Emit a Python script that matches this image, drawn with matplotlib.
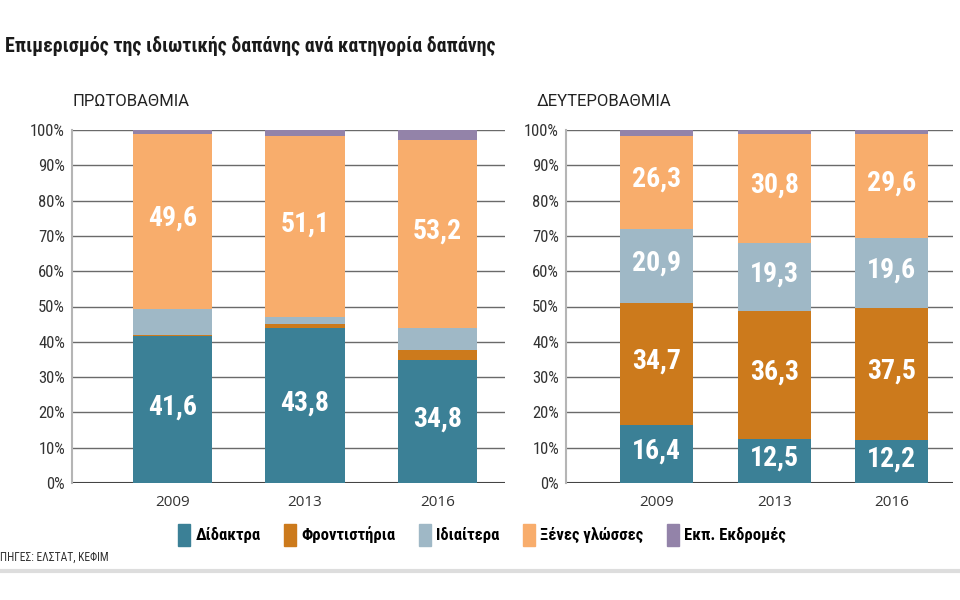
import matplotlib
matplotlib.use("Agg")
import matplotlib.pyplot as plt
from matplotlib.patches import Patch
from matplotlib.lines import Line2D
import numpy as np

NARROW = ["Roboto Condensed", "DejaVu Sans"]

# data
years = ["2009", "2013", "2016"]
categories = ["Δίδακτρα", "Φροντιστήρια", "Ιδιαίτερα", "Ξένες γλώσσες", "Εκπ. Εκδρομές"]
colors = ["#3b8096", "#cc7a1c", "#9fb8c6", "#f8ad6c", "#9383a9"]

# ΠΡΩΤΟΒΑΘΜΙΑ
prim_didaktra = [41.6, 43.8, 34.8]
prim_frontist = [0.3, 1.3, 2.9]
prim_idiaitera = [7.4, 2.0, 6.3]
prim_xenes = [49.6, 51.1, 53.2]
prim_ekdromes = [1.1, 1.8, 2.8]

# ΔΕΥΤΕΡΟΒΑΘΜΙΑ
sec_didaktra = [16.4, 12.5, 12.2]
sec_frontist = [34.7, 36.3, 37.5]
sec_idiaitera = [20.9, 19.3, 19.6]
sec_xenes = [26.3, 30.8, 29.6]
sec_ekdromes = [1.7, 1.1, 1.1]

primary = [prim_didaktra, prim_frontist, prim_idiaitera, prim_xenes, prim_ekdromes]
secondary = [sec_didaktra, sec_frontist, sec_idiaitera, sec_xenes, sec_ekdromes]
# ποιες σειρές έχουν ετικέτα τιμής
prim_labeled = [0, 3]
sec_labeled = [0, 1, 2, 3]

fig = plt.figure(figsize=(9.6, 6), dpi=100)


def draw_panel(ax, series, labeled, width, xlim):
    x = np.arange(len(years))
    bottom = np.zeros(len(years))
    for i, vals in enumerate(series):
        vals = np.array(vals)
        ax.bar(x, vals, width, bottom=bottom, color=colors[i], zorder=3)
        if i in labeled:
            for xi, b, v in zip(x, bottom, vals):
                ax.text(xi, b + v / 2 + 0.8, f"{v:.1f}".replace(".", ","),
                        ha="center", va="center", color="white",
                        fontsize=20, fontweight="bold", family=NARROW, zorder=4)
        bottom += vals
    ax.set_xlim(*xlim)
    ax.set_ylim(0, 100)
    ax.set_yticks(np.arange(0, 101, 10))
    ax.set_yticklabels([f"{t}%" for t in range(0, 101, 10)], family=NARROW,
                       fontsize=12, color="#333333")
    ax.set_xticks(x)
    ax.set_xticklabels(years, family="Open Sans", fontsize=11, color="#333333")
    ax.tick_params(axis="both", length=0, pad=5)
    ax.tick_params(axis="x", pad=9)
    ax.grid(axis="y", color="#6a6a6a", linewidth=1, zorder=1)
    ax.axhline(0, color="#444444", linewidth=1.5, zorder=2)
    for s in ["top", "right", "bottom"]:
        ax.spines[s].set_visible(False)
    ax.spines["left"].set_color("#b5b5b5")
    ax.spines["left"].set_linewidth(1.5)


ax1 = fig.add_axes([72 / 960, 117 / 600, 433 / 960, 353 / 600])
draw_panel(ax1, primary, prim_labeled, 0.6, (-0.76, 2.51))
ax2 = fig.add_axes([566 / 960, 117 / 600, 387 / 960, 353 / 600])
draw_panel(ax2, secondary, sec_labeled, 0.62, (-0.77, 2.52))

# τίτλοι
fig.text(5 / 960, 1 - 46 / 600, "Επιμερισμός της ιδιωτικής δαπάνης ανά κατηγορία δαπάνης",
         family=NARROW, fontweight="heavy", fontsize=14.3, color="#1a1a1a", va="center")
fig.text(72 / 960, 1 - 101 / 600, "ΠΡΩΤΟΒΑΘΜΙΑ", family="Roboto", fontsize=12,
         color="#222222", va="center")
fig.text(537 / 960, 1 - 101 / 600, "ΔΕΥΤΕΡΟΒΑΘΜΙΑ", family="Roboto", fontsize=12,
         color="#222222", va="center")

# υπόμνημα
handles = [Patch(color=c, label=l) for c, l in zip(colors, categories)]
fig.legend(handles=handles, loc="center", bbox_to_anchor=(482 / 960, 1 - 535 / 600),
           ncol=5, frameon=False, handlelength=0.75, handleheight=1.6,
           handletextpad=0.3, columnspacing=1.4,
           prop={"family": NARROW, "weight": "bold", "size": 12})

fig.text(0, 1 - 557 / 600, "ΠΗΓΕΣ: ΕΛΣΤΑΤ, ΚΕΦΙΜ", family=NARROW, fontsize=8.3,
         color="#333333", va="center")
fig.add_artist(Line2D([0, 1], [1 - 571 / 600] * 2, color="#dddddd", linewidth=3))

fig.savefig("out.png", dpi=100)
